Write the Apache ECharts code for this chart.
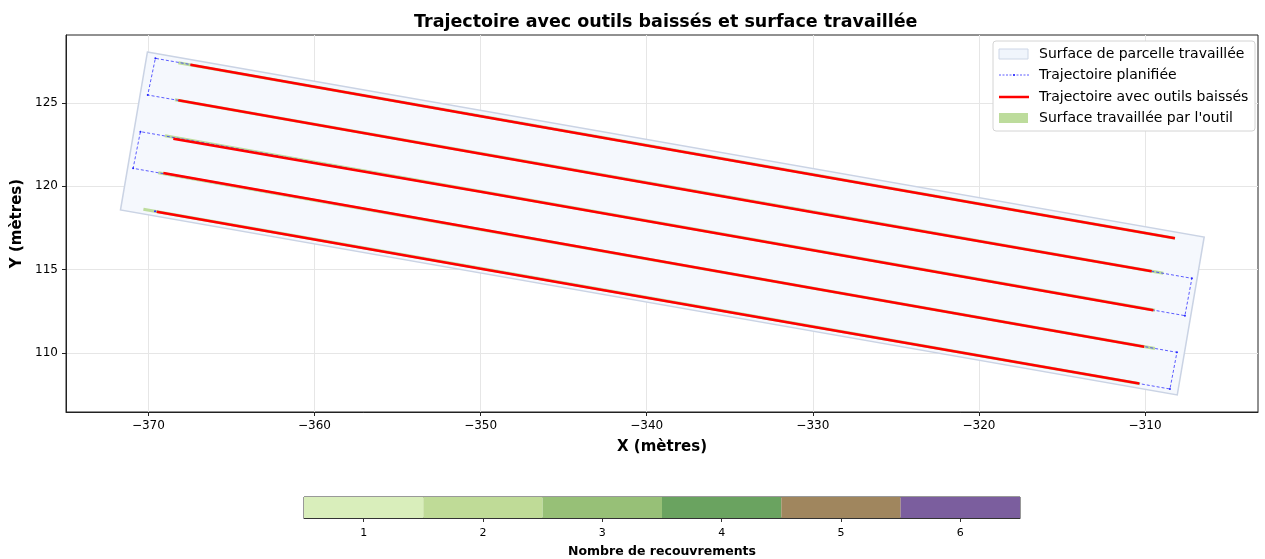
<!DOCTYPE html>
<html>
<head>
<meta charset="utf-8">
<script src="https://cdn.jsdelivr.net/npm/echarts@6/dist/echarts.min.js"></script>
<style>
  html, body { margin: 0; padding: 0; background: #fff; }
  #chart { width: 1265px; height: 559px; }
</style>
</head>
<body>
<div id="chart"></div>
<script>
// parcel outline (m)
const parcel = [[-370.06, 128.06], [-306.44, 116.96], [-308.06, 107.48], [-371.68, 118.58]]

// planned path (boustrophedon)
const planned = [
  [-308.3, 116.9], [-369.58, 127.68], [-370.04, 125.48], [-307.18, 114.48],
  [-307.6, 112.24], [-370.48, 123.28], [-370.92, 121.08], [-308.08, 110.04],
  [-308.5, 107.84], [-369.6, 118.5]
]

// trajectory with tools lowered, one list per pass
const lowered = [
  [[-367.47, 127.29], [-350, 124.20], [-330, 120.69], [-308.2, 116.88]],
  [[-368.2, 125.16], [-350, 121.95], [-330, 118.45], [-309.6, 114.9]],
  [[-368.5, 122.86], [-350, 119.67], [-330, 116.16], [-309.5, 112.57]],
  [[-369.1, 120.8], [-350, 117.43], [-330, 113.88], [-310.05, 110.37]],
  [[-369.5, 118.48], [-350, 115.06], [-330, 111.57], [-310.35, 108.17]]
]

// worked strips
const worked = [
  [[-368.2, 127.42], [-308.2, 116.88]],
  [[-368.4, 125.19], [-308.9, 114.78]],
  [[-369.0, 123.04], [-309.4, 112.56]],
  [[-369.4, 120.81], [-309.4, 110.27]],
  [[-370.3, 118.62], [-310.3, 108.15]]
]

const xTicks = [-370, -360, -350, -340, -330, -320, -310]
const yTicks = [110, 115, 120, 125]

// colorbar
const overlapLevels = ['1', '2', '3', '4', '5', '6']
const overlapColors = ['#d9eebb', '#bfdb97', '#97c077', '#6aa360', '#a0865e', '#7b5e9e']

const legendNames = [
  'Surface de parcelle travaillée',
  'Trajectoire planifiée',
  'Trajectoire avec outils baissés',
  "Surface travaillée par l'outil"
]

const fmt = v => (v < 0 ? '\u2212' + Math.abs(v) : String(v))
const FONT = 'DejaVu Sans'

const series = []

series.push({
  name: legendNames[0],
  type: 'custom',
  xAxisIndex: 0, yAxisIndex: 0,
  data: [0],
  z: 1,
  silent: true,
  renderItem: (params, api) => ({
    type: 'polygon',
    shape: { points: parcel.map(p => api.coord(p)) },
    style: { fill: '#f5f8fd', stroke: '#cad3e4', lineWidth: 1.5 }
  })
})

worked.forEach(seg => {
  series.push({
    name: legendNames[3],
    type: 'line',
    xAxisIndex: 0, yAxisIndex: 0,
    data: seg,
    symbol: 'none',
    z: 2,
    lineStyle: { color: '#bddc9c', width: 3 },
    silent: true
  })
})

series.push({
  name: legendNames[1],
  type: 'line',
  xAxisIndex: 0, yAxisIndex: 0,
  data: planned,
  symbol: 'circle',
  symbolSize: 2,
  z: 3,
  lineStyle: { color: '#3333ff', width: 0.8, type: [3, 2] },
  itemStyle: { color: '#2222ff' },
  silent: true
})

lowered.forEach(seg => {
  series.push({
    name: legendNames[2],
    type: 'line',
    xAxisIndex: 0, yAxisIndex: 0,
    data: seg,
    symbol: 'none',
    z: 4,
    lineStyle: { color: '#ff0000', width: 2.5 },
    silent: true
  })
})

series.push({
  type: 'bar',
  xAxisIndex: 1, yAxisIndex: 1,
  barWidth: '100%',
  silent: true,
  data: overlapLevels.map((l, i) => ({ value: 1, itemStyle: { color: overlapColors[i] } }))
})

// legend box drawn by hand, matplotlib style
const LX = 993, LY = 41
const rowY = [54, 75, 97, 118]
const legendGraphic = [
  { type: 'rect', shape: { x: LX, y: LY, width: 262, height: 90, r: 3 }, style: { fill: '#fff', stroke: '#d4d4d4', lineWidth: 1 }, z: 100 },
  { type: 'rect', shape: { x: 999, y: rowY[0] - 5, width: 29, height: 10 }, style: { fill: '#f0f5fc', stroke: '#cdd6e6', lineWidth: 1 }, z: 101 },
  { type: 'line', shape: { x1: 999, y1: rowY[1], x2: 1029, y2: rowY[1] }, style: { stroke: '#3333ff', lineWidth: 0.8, lineDash: [2, 1.5] }, z: 101 },
  { type: 'circle', shape: { cx: 1014, cy: rowY[1], r: 1 }, style: { fill: '#2222ff' }, z: 101 },
  { type: 'line', shape: { x1: 999, y1: rowY[2], x2: 1029, y2: rowY[2] }, style: { stroke: '#ff0000', lineWidth: 2.5 }, z: 101 },
  { type: 'rect', shape: { x: 999, y: rowY[3] - 5, width: 29, height: 10 }, style: { fill: '#bddc9c' }, z: 101 }
].concat(legendNames.map((n, i) => ({
  type: 'text', x: 1039, y: rowY[i], z: 101,
  style: { text: n, fill: '#000', font: '14px "DejaVu Sans"', textVerticalAlign: 'middle' }
})))

const options = {
  animation: false,
  backgroundColor: '#fff',
  title: {
    text: 'Trajectoire avec outils baissés et surface travaillée',
    left: 409, top: 8,
    textStyle: { fontFamily: FONT, fontSize: 17.5, fontWeight: 'bold', color: '#000' }
  },
  graphic: legendGraphic,
  grid: [
    { left: 66, right: 7, top: 35, bottom: 147, show: true, borderColor: '#222', borderWidth: 1, backgroundColor: 'transparent' },
    { left: 304, right: 245, top: 497, bottom: 41, show: true, borderColor: '#333', borderWidth: 1 }
  ],
  xAxis: [
    {
      type: 'value', gridIndex: 0,
      min: -374.96, max: -303.2,
      name: 'X (mètres)', nameLocation: 'middle', nameGap: 28,
      nameTextStyle: { fontFamily: FONT, fontSize: 15, fontWeight: 'bold', color: '#000' },
      axisLine: { show: true, lineStyle: { color: '#222' } },
      axisTick: { show: true, length: 4, customValues: xTicks, lineStyle: { color: '#222' } },
      axisLabel: { customValues: xTicks, formatter: fmt, fontFamily: FONT, fontSize: 12, color: '#000', margin: 8 },
      splitLine: { show: true, lineStyle: { color: '#e6e6e6' } }
    },
    {
      type: 'category', gridIndex: 1,
      data: overlapLevels,
      axisLine: { show: true, lineStyle: { color: '#333' } },
      axisTick: { show: true, alignWithLabel: true, length: 4, lineStyle: { color: '#333' } },
      axisLabel: { fontFamily: FONT, fontSize: 11, color: '#000', margin: 10 },
      name: 'Nombre de recouvrements', nameLocation: 'middle', nameGap: 27,
      nameTextStyle: { fontFamily: FONT, fontSize: 12.5, fontWeight: 'bold', color: '#000' }
    }
  ],
  yAxis: [
    {
      type: 'value', gridIndex: 0,
      min: 106.46, max: 129.08,
      name: 'Y (mètres)', nameLocation: 'middle', nameGap: 35,
      nameTextStyle: { fontFamily: FONT, fontSize: 15, fontWeight: 'bold', color: '#000' },
      axisLine: { show: true, lineStyle: { color: '#222' } },
      axisTick: { show: true, length: 4, customValues: yTicks, lineStyle: { color: '#222' } },
      axisLabel: { customValues: yTicks, formatter: fmt, fontFamily: FONT, fontSize: 12, color: '#000', margin: 8 },
      splitLine: { show: true, lineStyle: { color: '#e6e6e6' } }
    },
    {
      type: 'value', gridIndex: 1, min: 0, max: 1,
      axisLine: { show: false }, axisTick: { show: false }, axisLabel: { show: false }, splitLine: { show: false }
    }
  ],
  series: series
}

const chart = echarts.init(document.getElementById('chart'), null, { renderer: 'canvas' })
chart.setOption(options)
</script>
</body>
</html>
